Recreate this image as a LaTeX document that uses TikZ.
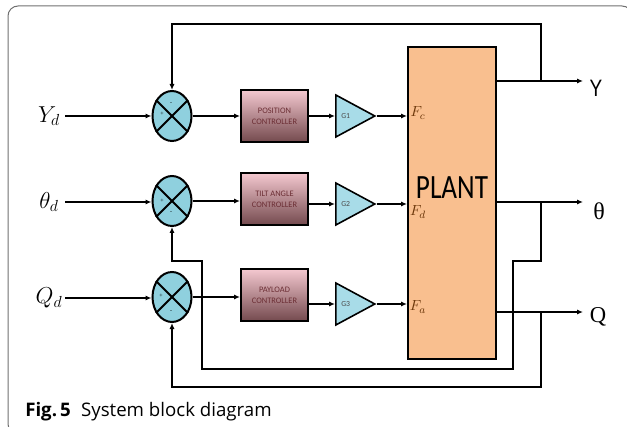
\documentclass[tikz,border=0pt]{standalone}
\usepackage{graphicx}
\usepackage{fontspec}
\setmainfont{Liberation Serif}
\newfontfamily\capfont{Open Sans}
\newfontfamily\calfont{Carlito}
\newfontfamily\arialfont{Liberation Sans}
\usetikzlibrary{arrows.meta,shapes.geometric}
\definecolor{sumfill}{HTML}{8FD0DE}
\definecolor{trifill}{HTML}{A8DCE8}
\definecolor{plantfill}{HTML}{F9BF8F}
\definecolor{boxtop}{HTML}{F4C8D0}
\definecolor{boxbot}{HTML}{744A4E}
\definecolor{boxtext}{HTML}{6B2E34}
\definecolor{flabel}{HTML}{6A3508}
\definecolor{framegray}{HTML}{707070}
\begin{document}
\begin{tikzpicture}[x=0.75pt,y=-0.75pt,
  wire/.style={line width=1.5pt},
  arr/.style={wire,-{Latex[length=4.5pt,width=3.8pt]}},
  sumnode/.style={ellipse, draw, line width=1.5pt, fill=sumfill, minimum width=29.25pt, minimum height=37.5pt, inner sep=0pt},
  ctrl/.style={draw, line width=1.5pt, top color=boxtop, bottom color=boxbot, minimum width=50.25pt, minimum height=39pt, inner sep=0pt, align=center, font=\calfont\fontsize{6.3}{8.5}\selectfont, text=boxtext},
  gain/.style={isosceles triangle, isosceles triangle stretches, draw, line width=1.2pt, fill=trifill, minimum width=31.5pt, minimum height=29.25pt, inner sep=0pt, font=\calfont\fontsize{5.8}{6}\selectfont, text=black!70, anchor=west},
  inlab/.style={font=\fontsize{18}{20}\selectfont},
  flab/.style={font=\fontsize{11}{12}\selectfont, text=flabel},
  sgn/.style={font=\fontsize{4.5}{4.5}\selectfont, inner sep=0pt},
]
\useasboundingbox (0,0) rectangle (627,427);
\clip (0,0) rectangle (627,427);
\draw[framegray, line width=0.75pt, rounded corners=7.5pt] (8,6) rectangle (632,434);

% summing junctions
\node[sumnode] (S1) at (172,116) {};
\node[sumnode] (S2) at (172,201) {};
\node[sumnode] (S3) at (172,297) {};
\foreach \s in {S1,S2,S3}{
  \draw[line width=1.5pt] (\s.45) -- (\s.225);
  \draw[line width=1.5pt] (\s.135) -- (\s.315);
}
\node[sgn] (p1) at (162,114) {+};
\node[sgn] (m1) at (171,104) {-};
\node[sgn] (p2) at (162,201) {+};
\node[sgn] (m2) at (171,213) {-};
\node[sgn] (p3) at (161,296) {+};
\node[sgn] (m3) at (171,312) {-};

% controllers
\node[ctrl] (B1) at (274.5,116) {POSITION\\CONTROLLER};
\node[ctrl] (B2) at (274.5,199) {TILT ANGLE\\CONTROLLER};
\node[ctrl] (B3) at (274.5,295) {PAYLOAD\\CONTROLLER};

% gains
\node[gain] (G1) at (335,116) {\hspace{-3pt}G1};
\node[gain] (G2) at (335,204) {\hspace{-3pt}G2};
\node[gain] (G3) at (335,304) {\hspace{-3pt}G3};

% plant
\node[draw, line width=1.5pt, fill=plantfill, minimum width=66pt, minimum height=234pt, inner sep=0pt] (P) at (452,203) {};
\node (PL) at (452,188) {\calfont\fontsize{25.5}{28}\selectfont\scalebox{0.8}[1]{PLANT}};
\node[flab] (Fc) at (418,113) {$F_c$};
\node[flab] (Fd) at (418,212) {$F_d$};
\node[flab] (Fa) at (418,307) {$F_a$};

% inputs
\node[inlab] (Yd) at (49,116) {$Y_d$};
\node[inlab] (Td) at (49,202) {$\theta_d$};
\node[inlab] (Qd) at (49,298) {$Q_d$};
\coordinate (i1) at (65,116);
\coordinate (i2) at (65,202);
\coordinate (i3) at (65,298);
\draw[arr] (i1) -- (S1.west);
\draw[arr] (i2) -- (i2 -| S2.west);
\draw[arr] (i3) -- (i3 -| S3.west);

% forward path
\draw[arr] (S1.east) -- (B1.west);
\draw[arr] (S2.east) -- (S2.east -| B2.west);
\draw[arr] (S3.east) -- (S3.east -| B3.west);
\draw[arr] (B1.east |- G1.west) -- (G1.west);
\draw[arr] (B2.east |- G2.west) -- (G2.west);
\draw[arr] (B3.east |- G3.west) -- (G3.west);
\draw[arr] (G1.east) -- (G1.east -| P.west);
\draw[arr] (G2.east) -- (G2.east -| P.west);
\draw[arr] (G3.east) -- (G3.east -| P.west);

% outputs
\coordinate (Yo) at (583,81);
\coordinate (To) at (583,202);
\coordinate (Qo) at (583,312);
\draw[arr] (P.east |- Yo) -- (Yo);
\draw[arr] (P.east |- To) -- (To);
\draw[arr] (P.east |- Qo) -- (Qo);
\node (Yl) at (596,88) {\arialfont\fontsize{17.8}{20}\selectfont\scalebox{0.8}[1]{Y}};
\node (Tl) at (599,211) {\fontsize{18}{20}\selectfont θ};
\node (Ql) at (598,317) {\fontsize{17}{20}\selectfont Q};

% feedback 1
\coordinate (f1a) at (541,81);
\coordinate (f1b) at (541,24);
\draw[arr] (f1a) -- (f1b) -| (S1.north);
% feedback 2
\coordinate (f2a) at (541,202);
\coordinate (f2b) at (541,261);
\coordinate (f2c) at (513,369);
\coordinate (f2d) at (202,261);
\draw[arr] (f2a) -- (f2b) -| (f2c) -| (f2d) -| (S2.south);
% feedback 3
\coordinate (f3a) at (541,312);
\coordinate (f3b) at (541,387);
\draw[arr] (f3a) -- (f3b) -| (S3.south);

% caption
\node[anchor=base west, inner sep=0pt] (cap) at (25,416) {\capfont\fontsize{14}{16}\selectfont\textbf{Fig.\,5}\hspace{0.55em}System block diagram};
\end{tikzpicture}
\end{document}
